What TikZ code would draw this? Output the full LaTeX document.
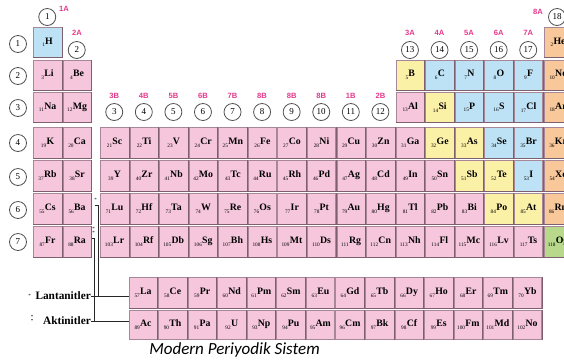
\documentclass[tikz,border=0pt]{standalone}
\usepackage{fontspec}
\setmainfont{Liberation Serif}
\newfontfamily\capfont{Carlito}
\newfontfamily\grpfont{Liberation Sans}
\definecolor{cp}{HTML}{F6C7DC}
\definecolor{cb}{HTML}{BEE2F5}
\definecolor{cy}{HTML}{FAF0A6}
\definecolor{co}{HTML}{F8C79A}
\definecolor{cg}{HTML}{B8D98B}
\definecolor{cellline}{HTML}{A88898}
\definecolor{celldark}{HTML}{7E5F6E}
\definecolor{grpcol}{HTML}{E5388C}
\definecolor{ringcol}{HTML}{505050}
\newcommand{\elt}[2]{\raisebox{-2.6pt}{\fontsize{5.3}{6}\selectfont #1}\kern0.3pt{\bfseries\fontsize{9.8}{10}\selectfont #2}}
\newcommand{\twostars}{\vbox{\offinterlineskip\hbox{*}\kern0.6pt\hbox{*}}}
\begin{document}
\begin{tikzpicture}[x=1pt,y=-1pt,
  cell/.style={draw=cellline,line width=0.6pt,minimum width=28.5pt,inner sep=0pt,anchor=north west},
  edge3d/.style={draw=celldark,line width=0.9pt},
  ring/.style={circle,draw=ringcol,line width=0.8pt,minimum size=17pt,inner sep=0pt,font=\fontsize{9}{9}\selectfont},
  grp/.style={text=grpcol,font=\grpfont\bfseries\fontsize{7.6}{8}\selectfont,inner sep=0pt},
  star/.style={inner sep=0pt,font=\fontsize{5}{5}\selectfont},
  serieslabel/.style={anchor=east,inner sep=0pt,font=\bfseries\fontsize{11.3}{12}\selectfont},
  wire/.style={line width=0.9pt,draw=black!85}]
\useasboundingbox (0,0) rectangle (564,360);
\clip (0,0) rectangle (564,360);
% row 1
\foreach \c/\n/\s/\k in {1/1/H/b,18/2/He/o}{
  \pgfmathsetmacro\xx{\c<3 ? 33+(\c-1)*29.5 : 100+(\c-3)*29.57}
  \node[cell,fill=c\k,minimum height=30pt] (e\n) at (\xx,27) {\elt{\n}{\s}};
  \draw[edge3d] (e\n.south west) -- (e\n.south east) -- (e\n.north east);}
% row 2
\foreach \c/\n/\s/\k in {1/3/Li/p,2/4/Be/p,13/5/B/y,14/6/C/b,15/7/N/b,16/8/O/b,17/9/F/b,18/10/Ne/o}{
  \pgfmathsetmacro\xx{\c<3 ? 33+(\c-1)*29.5 : 100+(\c-3)*29.57}
  \node[cell,fill=c\k,minimum height=30pt] (e\n) at (\xx,59.5) {\elt{\n}{\s}};
  \draw[edge3d] (e\n.south west) -- (e\n.south east) -- (e\n.north east);}
% row 3
\foreach \c/\n/\s/\k in {1/11/Na/p,2/12/Mg/p,13/13/Al/p,14/14/Si/y,15/15/P/b,16/16/S/b,17/17/Cl/b,18/18/Ar/o}{
  \pgfmathsetmacro\xx{\c<3 ? 33+(\c-1)*29.5 : 100+(\c-3)*29.57}
  \node[cell,fill=c\k,minimum height=30pt] (e\n) at (\xx,92) {\elt{\n}{\s}};
  \draw[edge3d] (e\n.south west) -- (e\n.south east) -- (e\n.north east);}
% row 4
\foreach \c/\n/\s/\k in {1/19/K/p,2/20/Ca/p,3/21/Sc/p,4/22/Ti/p,5/23/V/p,6/24/Cr/p,7/25/Mn/p,8/26/Fe/p,9/27/Co/p,10/28/Ni/p,11/29/Cu/p,12/30/Zn/p,13/31/Ga/p,14/32/Ge/y,15/33/As/y,16/34/Se/b,17/35/Br/b,18/36/Kr/o}{
  \pgfmathsetmacro\xx{\c<3 ? 33+(\c-1)*29.5 : 100+(\c-3)*29.57}
  \node[cell,fill=c\k,minimum height=31pt] (e\n) at (\xx,127) {\elt{\n}{\s}};
  \draw[edge3d] (e\n.south west) -- (e\n.south east) -- (e\n.north east);}
% row 5
\foreach \c/\n/\s/\k in {1/37/Rb/p,2/38/Sr/p,3/39/Y/p,4/40/Zr/p,5/41/Nb/p,6/42/Mo/p,7/43/Tc/p,8/44/Ru/p,9/45/Rh/p,10/46/Pd/p,11/47/Ag/p,12/48/Cd/p,13/49/In/p,14/50/Sn/p,15/51/Sb/y,16/52/Te/y,17/53/I/b,18/54/Xe/o}{
  \pgfmathsetmacro\xx{\c<3 ? 33+(\c-1)*29.5 : 100+(\c-3)*29.57}
  \node[cell,fill=c\k,minimum height=31pt] (e\n) at (\xx,160) {\elt{\n}{\s}};
  \draw[edge3d] (e\n.south west) -- (e\n.south east) -- (e\n.north east);}
% row 6
\foreach \c/\n/\s/\k in {1/55/Cs/p,2/56/Ba/p,3/71/Lu/p,4/72/Hf/p,5/73/Ta/p,6/74/W/p,7/75/Re/p,8/76/Os/p,9/77/Ir/p,10/78/Pt/p,11/79/Au/p,12/80/Hg/p,13/81/Tl/p,14/82/Pb/p,15/83/Bi/p,16/84/Po/y,17/85/At/y,18/86/Rn/o}{
  \pgfmathsetmacro\xx{\c<3 ? 33+(\c-1)*29.5 : 100+(\c-3)*29.57}
  \node[cell,fill=c\k,minimum height=31pt] (e\n) at (\xx,193) {\elt{\n}{\s}};
  \draw[edge3d] (e\n.south west) -- (e\n.south east) -- (e\n.north east);}
% row 7
\foreach \c/\n/\s/\k in {1/87/Fr/p,2/88/Ra/p,3/103/Lr/p,4/104/Rf/p,5/105/Db/p,6/106/Sg/p,7/107/Bh/p,8/108/Hs/p,9/109/Mt/p,10/110/Ds/p,11/111/Rg/p,12/112/Cn/p,13/113/Nh/p,14/114/Fl/p,15/115/Mc/p,16/116/Lv/p,17/117/Ts/p,18/118/Og/g}{
  \pgfmathsetmacro\xx{\c<3 ? 33+(\c-1)*29.5 : 100+(\c-3)*29.57}
  \node[cell,fill=c\k,minimum height=31pt] (e\n) at (\xx,226) {\elt{\n}{\s}};
  \draw[edge3d] (e\n.south west) -- (e\n.south east) -- (e\n.north east);}
% lanthanides
\foreach \i/\n/\s in {0/57/La,1/58/Ce,2/59/Pr,3/60/Nd,4/61/Pm,5/62/Sm,6/63/Eu,7/64/Gd,8/65/Tb,9/66/Dy,10/67/Ho,11/68/Er,12/69/Tm,13/70/Yb}{
  \pgfmathsetmacro\xx{128.5+\i*29.57}
  \node[cell,fill=cp,minimum height=31pt] (e\n) at (\xx,277) {\elt{\n}{\s}};
  \draw[edge3d] (e\n.south west) -- (e\n.south east) -- (e\n.north east);}
% actinides
\foreach \i/\n/\s in {0/89/Ac,1/90/Th,2/91/Pa,3/92/U,4/93/Np,5/94/Pu,6/95/Am,7/96/Cm,8/97/Bk,9/98/Cf,10/99/Es,11/100/Fm,12/101/Md,13/102/No}{
  \pgfmathsetmacro\xx{128.5+\i*29.57}
  \node[cell,fill=cp,minimum height=29pt] (e\n) at (\xx,310) {\elt{\n}{\s}};
  \draw[edge3d] (e\n.south east) -- (e\n.north east);}
% period rings
\foreach \r/\y in {1/44,2/76,3/108,4/143,5/177,6/210,7/242}{
  \node[ring] (p\r) at (18,\y) {\r};}
% group rings
\node[ring] (g1) at (47.25,17) {1};
\node[grp] (l1) at (64,9) {1A};
\node[ring] (g2) at (76.75,50) {2};
\node[grp] (l2) at (77,33) {2A};
\foreach \c/\t in {3/3B,4/4B,5/5B,6/6B,7/7B,8/8B,9/8B,10/8B,11/1B,12/2B}{
  \pgfmathsetmacro\xx{100+(\c-3)*29.57+14.25}
  \node[ring] (g\c) at (\xx,112) {\c};
  \node[grp] (l\c) at (\xx,96) {\t};}
\foreach \c/\t in {13/3A,14/4A,15/5A,16/6A,17/7A}{
  \pgfmathsetmacro\xx{100+(\c-3)*29.57+14.25}
  \node[ring] (g\c) at (\xx,50) {\c};
  \node[grp] (l\c) at (\xx,33) {\t};}
\node[ring] (g18) at (557,17) {18};
\node[grp] (l18) at (538,12) {8A};
% series labels
\node[serieslabel] (lan) at (91,296) {Lantanitler};
\node[star] (ls) at (29.5,295.5) {*};
\node[serieslabel] (akt) at (91,321) {Aktinitler};
\node[star] (as) at (32,319) {\twostars};
\node[star] (s1) at (95.5,200) {*};
\node[star] (s2) at (93.5,230.5) {\twostars};
% brackets
\draw[wire] ([xshift=3pt,yshift=3.5pt]e56.east) -| (98,296);
\draw[wire] (lan.east) -- (lan.east -| e57.west);
\draw[wire] ([yshift=3.5pt]e88.east) -| (94,321);
\draw[wire] (akt.east) -- (akt.east -| e89.west);
% caption
\node[font=\capfont\itshape\fontsize{17}{18}\selectfont,inner sep=0pt,anchor=base] (cap) at (234.5,354) {Modern Periyodik Sistem};
\end{tikzpicture}
\end{document}
